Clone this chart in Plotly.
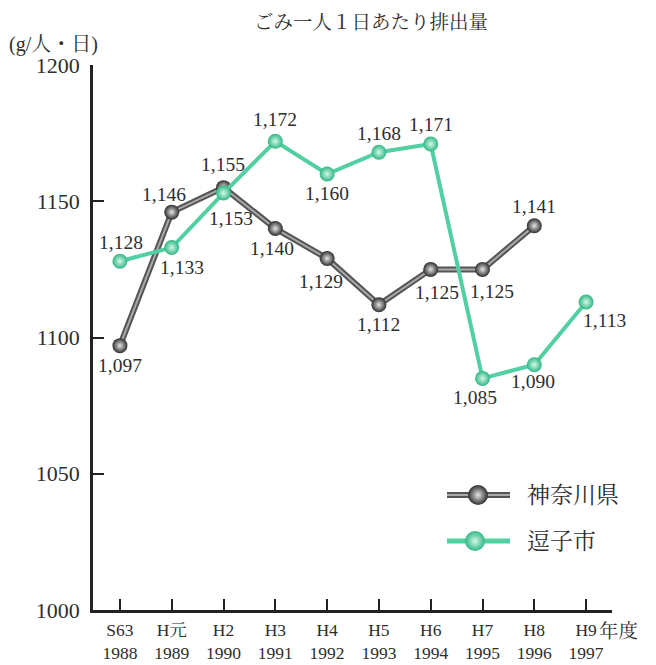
import plotly.graph_objects as go

# --- data -------------------------------------------------------------
era_labels = ["S63", "H元", "H2", "H3", "H4", "H5", "H6", "H7", "H8", "H9"]
year_labels = ["1988", "1989", "1990", "1991", "1992", "1993", "1994", "1995", "1996", "1997"]
kanagawa = [1097, 1146, 1155, 1140, 1129, 1112, 1125, 1125, 1141]
zushi = [1128, 1133, 1153, 1172, 1160, 1168, 1171, 1085, 1090, 1113]
series_names = ["神奈川県", "逗子市"]
y_ticks = [1000, 1050, 1100, 1150, 1200]

# --- label placement (pixel offsets from each point) --------------------
kanagawa_label_offsets = [(0, -20), (-8, 18), (-1, 23), (-3, -20), (-6, -23),
                          (0, -20), (6, -23), (9, -22), (0, 19)]
zushi_label_offsets = [(1, 19), (10, -20), (7, -25), (0, 22), (0, -19),
                       (0, 19), (0, 20), (-8, -19), (-1, -17), (18, -18)]

SERIF = "Liberation Serif, Noto Serif CJK JP, Noto Sans CJK JP, serif"
TEXT = "#2e2e2e"
GRAY_EDGE, GRAY_CORE = "#555555", "#a9a9a9"
GREEN = "#52d0a2"

x_k = list(range(len(kanagawa)))
x_z = list(range(len(zushi)))
tick_text = [f"{e}<br>{y}" for e, y in zip(era_labels, year_labels)]

fig = go.Figure()

# Kanagawa: tube-like line (dark rim + light core) with shaded spheres
fig.add_trace(go.Scatter(x=x_k, y=kanagawa, mode="lines",
                         line=dict(color=GRAY_EDGE, width=6), hoverinfo="skip"))
fig.add_trace(go.Scatter(x=x_k, y=kanagawa, mode="lines+markers",
                         line=dict(color=GRAY_CORE, width=2),
                         marker=dict(size=15, color="#2e2e2e",
                                     gradient=dict(type="radial", color="#e6e6e6"),
                                     line=dict(width=0)),
                         name=series_names[0]))

# Zushi
fig.add_trace(go.Scatter(x=x_z, y=zushi, mode="lines+markers",
                         line=dict(color=GREEN, width=4),
                         marker=dict(size=15, color="#2fb784",
                                     gradient=dict(type="radial", color="#d4f7e8"),
                                     line=dict(width=0)),
                         name=series_names[1]))

# value labels
annotations = []
for xs, vals, offs in ((x_k, kanagawa, kanagawa_label_offsets),
                       (x_z, zushi, zushi_label_offsets)):
    for xi, v, (dx, dy) in zip(xs, vals, offs):
        annotations.append(dict(x=xi, y=v, text=f"{v:,}", showarrow=False,
                                xshift=dx, yshift=dy,
                                font=dict(family=SERIF, size=19.5, color=TEXT)))

# title, unit and trailing "年度" of the last category
annotations += [
    dict(xref="paper", yref="paper", x=0.535, y=1.0, yshift=43, yanchor="middle",
         text="ごみ一人１日あたり排出量",
         showarrow=False, font=dict(family=SERIF, size=19.5, color=TEXT)),
    dict(xref="paper", yref="paper", x=-0.165, y=1.0, yshift=21, xanchor="left",
         yanchor="middle", text="(g/人・日)", showarrow=False,
         font=dict(family=SERIF, size=20, color=TEXT)),
    dict(x=len(era_labels) - 1, xref="x", yref="paper", y=0, yshift=-21, xshift=11,
         xanchor="left", yanchor="middle", text="年度", showarrow=False,
         font=dict(family=SERIF, size=19.5, color=TEXT)),
]

# legend drawn in figure-pixel coordinates on an overlay axis
legend_rows = [(495, GRAY_EDGE, "#2e2e2e", "#e6e6e6", 478),
               (541, GREEN, "#2fb784", "#d4f7e8", 475)]
for (py, lc, mc, gc, mx), name in zip(legend_rows, series_names):
    fig.add_trace(go.Scatter(x=[447, 510], y=[py, py], mode="lines", xaxis="x2", yaxis="y2",
                             line=dict(color=lc, width=6 if lc == GRAY_EDGE else 5),
                             hoverinfo="skip"))
    if lc == GRAY_EDGE:
        fig.add_trace(go.Scatter(x=[447, 510], y=[py, py], mode="lines", xaxis="x2", yaxis="y2",
                                 line=dict(color=GRAY_CORE, width=2), hoverinfo="skip"))
    fig.add_trace(go.Scatter(x=[mx], y=[py], mode="markers", xaxis="x2", yaxis="y2",
                             marker=dict(size=20, color=mc,
                                         gradient=dict(type="radial", color=gc),
                                         line=dict(width=0)),
                             hoverinfo="skip"))
    annotations.append(dict(xref="x2", yref="y2", x=525, y=py, xanchor="left",
                            text=name, showarrow=False,
                            font=dict(family=SERIF, size=23, color=TEXT)))

fig.update_layout(
    width=656, height=665,
    margin=dict(l=93, r=44, t=65, b=55),
    paper_bgcolor="white", plot_bgcolor="white",
    showlegend=False,
    font=dict(family=SERIF, color=TEXT),
    annotations=annotations,
    xaxis=dict(range=[-0.52, 9.5], tickmode="array", tickvals=list(range(len(era_labels))),
               ticktext=tick_text, ticks="inside", ticklen=11, tickwidth=2,
               tickcolor="#222222", showline=True, linecolor="#222222", linewidth=2.5,
               showgrid=False, zeroline=False, ticklabelstandoff=2, automargin=False,
               tickfont=dict(family=SERIF, size=17.5, color=TEXT)),
    yaxis=dict(range=[1000, 1200], tickmode="array", tickvals=y_ticks,
               ticks="inside", ticklen=11, tickwidth=2, tickcolor="#222222",
               showline=True, linecolor="#222222", linewidth=2.5,
               showgrid=False, zeroline=False, ticklabelstandoff=6, automargin=False,
               tickfont=dict(family=SERIF, size=22, color=TEXT)),
    xaxis2=dict(overlaying="x", range=[93, 612], visible=False, fixedrange=True),
    yaxis2=dict(overlaying="y", range=[610, 65], visible=False, fixedrange=True),
)

fig.write_html("out.html")
